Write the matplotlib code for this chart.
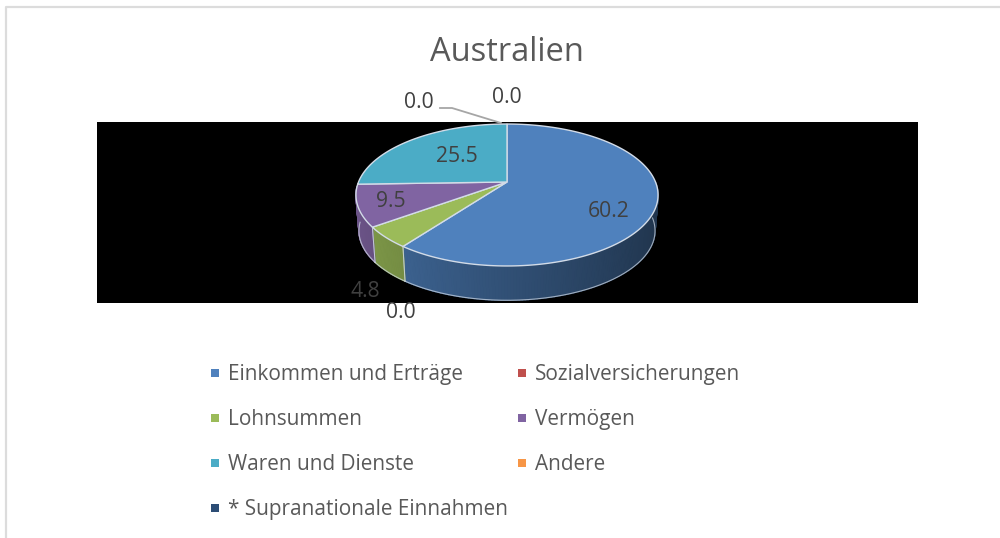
import numpy as np
import matplotlib
matplotlib.use("Agg")
from matplotlib import pyplot as plt
from matplotlib.patches import Rectangle

categories = ["Einkommen und Erträge", "Sozialversicherungen", "Lohnsummen", "Vermögen",
              "Waren und Dienste", "Andere", "* Supranationale Einnahmen"]
values = [60.2, 0.0, 4.8, 9.5, 25.5, 0.0, 0.0]
colors = ["#4f81bd", "#c0504d", "#9bbb59", "#8064a2", "#4bacc6", "#f79646", "#2c4d75"]

plt.rcParams["font.family"] = ["Open Sans", "DejaVu Sans"]

# pie centre and perspective of the 3d look, in pixels
cx, cy = 507, 182
b, a, k = 148.5, 68.6, 0.183
depth, shrink = 36, 0.98
edge = "#d3dce8"


def rim(t, s=1.0, dy=0):
    # t is clockwise from 12 o'clock
    u, v = np.sin(t), np.cos(t)
    w = 1 + k*v
    return cx + s*b*u/w, cy + dy - s*a*v/w


fig = plt.figure(figsize=(10, 5.38), dpi=100)
ax = fig.add_axes([0, 0, 1, 1])
ax.set_xlim(0, 1000)
ax.set_ylim(538, 0)
ax.axis("off")

# chart frame, only left and top show
ax.plot([6, 6, 1000], [538, 6.5, 6.5], color="#dcdcdc", lw=1.6)
ax.add_patch(Rectangle((97, 122), 821, 181, color="black", lw=0))

ends = np.cumsum(values)/sum(values)*2*np.pi
starts = np.r_[0, ends[:-1]]

# side wall first, the part turned to the viewer
for t0, t1, c in zip(starts, ends, colors):
    lo, hi = max(t0, np.pi/2), min(t1, 1.48*np.pi)
    if hi <= lo:
        continue
    ts = np.linspace(lo, hi, max(int((hi - lo)*60), 2))
    rgb = np.array(matplotlib.colors.to_rgb(c))
    for p, q in zip(ts[:-1], ts[1:]):
        x1, y1 = rim(np.array([p, q]))
        x2, y2 = rim(np.array([q, p]), shrink, depth)
        f = 0.62 - 0.22*np.sin((p + q)/2)
        ax.fill(np.r_[x1, x2], np.r_[y1, y2], facecolor=rgb*f, edgecolor=rgb*f, lw=1.0)
    bx, by = rim(ts, shrink, depth)
    ax.plot(bx, by, color=edge, lw=0.8, alpha=0.7)
    for t in (lo, hi):
        if 0.51*np.pi < t < 1.47*np.pi:
            xa, ya = rim(t)
            xb, yb = rim(t, shrink, depth)
            ax.plot([xa, xb], [ya, yb], color=edge, lw=0.7, alpha=0.6)

# top face
for t0, t1, c in zip(starts, ends, colors):
    if t1 - t0 <= 0:
        continue
    ts = np.linspace(t0, t1, 200)
    x, y = rim(ts)
    ax.fill(np.r_[cx, x], np.r_[cy, y], facecolor=c, edgecolor=edge, lw=1.0, zorder=3)

# data labels, order as in values
label_x = [609, 401, 365, 391, 457, 419, 507]
label_y = [217, 318, 297, 207, 162, 108, 103]
label_c = ["#404040"]*7
for v, x, y, c in zip(values, label_x, label_y, label_c):
    ax.text(x, y, f"{v:.1f}", color=c, fontsize=15.2, ha="center", va="baseline", zorder=5)
ax.plot([440, 452, 501], [108, 108, 123], color="#a6a6a6", lw=1.3, zorder=4)

ax.text(507, 61, "Australien", color="#595959", fontsize=23.5, ha="center", va="baseline")

# legend
leg_x = [215, 215 + 307]
leg_y = [373, 418, 463, 508]
for i, (name, c) in enumerate(zip(categories, colors)):
    x, y = leg_x[i % 2], leg_y[i//2]
    ax.add_patch(Rectangle((x - 4, y - 4), 8, 8, color=c, lw=0))
    ax.text(x + 13, y + 7, name, color="#595959", fontsize=14.95, ha="left", va="baseline")

fig.savefig("out.png", dpi=100)
